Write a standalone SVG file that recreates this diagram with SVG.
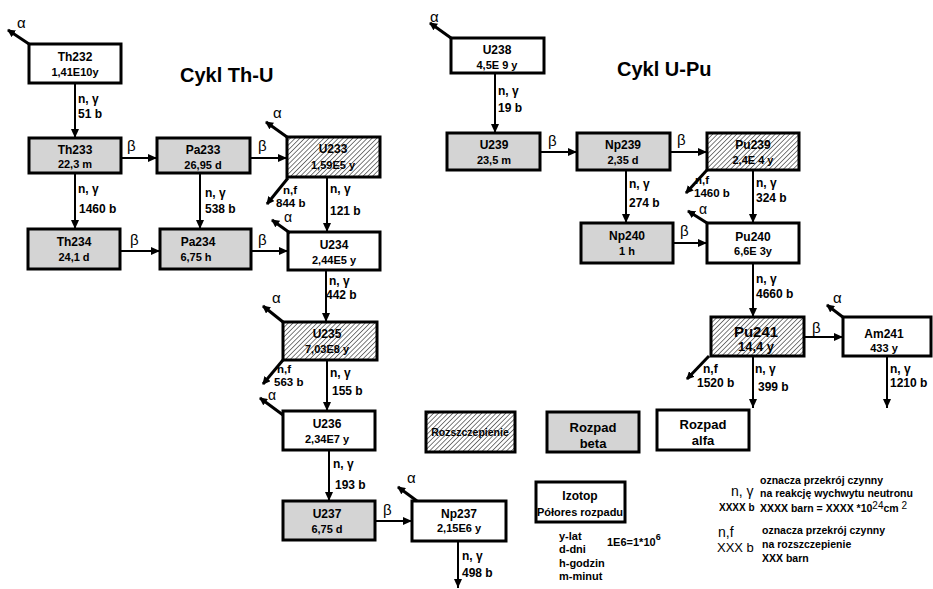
<svg xmlns="http://www.w3.org/2000/svg" width="933" height="589" viewBox="0 0 933 589">
<defs>
<pattern id="hatch" patternUnits="userSpaceOnUse" width="3.4" height="3.4" patternTransform="rotate(45)">
<rect width="3.4" height="3.4" fill="#fff"/>
<line x1="0" y1="0" x2="0" y2="3.4" stroke="#444" stroke-width="1.4"/>
</pattern>
<marker id="ah" markerUnits="userSpaceOnUse" markerWidth="9" markerHeight="8" refX="9" refY="4" orient="auto">
<path d="M0,0 L9,4 L0,8 z" fill="#000"/>
</marker>
<marker id="ah2" markerUnits="userSpaceOnUse" markerWidth="8" markerHeight="8" refX="7" refY="4" orient="auto">
<path d="M0,0 L8,4 L0,8 z" fill="#000"/>
</marker>
</defs>
<style>
.box{stroke:#000;stroke-width:3}
.w{fill:#fff}.g{fill:#d4d4d4}.h{fill:url(#hatch)}
text{font-family:"Liberation Sans",Arial,sans-serif;fill:#000}
.n1{font-size:12px;font-weight:bold;text-anchor:middle}
.n2{font-size:11px;font-weight:bold;text-anchor:middle}
.lb{font-size:12px;font-weight:bold}
.nf{font-size:11.5px;font-weight:bold}
.gr{font-size:15px}
.ti{font-size:20px;font-weight:bold}
.lg{font-size:10.5px;font-weight:bold}
.lc{font-size:13px;font-weight:bold;text-anchor:middle}
.conn line{stroke:#000;stroke-width:2;marker-end:url(#ah)}
.conn line.d{stroke-width:3;marker-end:url(#ah2)}
</style>
<rect width="933" height="589" fill="#fff"/>

<text class="ti" x="180" y="82">Cykl Th-U</text>
<text class="ti" x="617" y="76">Cykl U-Pu</text>

<g id="Th232"><rect class="box w" x="29" y="44" width="92" height="39"/><text class="n1" x="75" y="61">Th232</text><text class="n2" x="75" y="76">1,41E10y</text></g>
<g id="Th233"><rect class="box g" x="29" y="138" width="92" height="35"/><text class="n1" x="75" y="154">Th233</text><text class="n2" x="75" y="168">22,3 m</text></g>
<g id="Pa233"><rect class="box g" x="157" y="138" width="93" height="35"/><text class="n1" x="203" y="154">Pa233</text><text class="n2" x="203" y="169">26,95 d</text></g>
<g id="U233"><rect class="box h" x="287" y="137" width="93" height="40"/><text class="n1" x="333" y="153">U233</text><text class="n2" x="333" y="169">1,59E5 y</text></g>
<g id="Th234"><rect class="box g" x="28" y="229" width="92" height="40"/><text class="n1" x="74" y="246">Th234</text><text class="n2" x="74" y="261">24,1 d</text></g>
<g id="Pa234"><rect class="box g" x="160" y="229" width="91" height="40"/><text class="n1" x="198" y="246">Pa234</text><text class="n2" x="196" y="261">6,75 h</text></g>
<g id="U234"><rect class="box w" x="288" y="232" width="92" height="38"/><text class="n1" x="334" y="249">U234</text><text class="n2" x="334" y="264">2,44E5 y</text></g>
<g id="U235"><rect class="box h" x="283" y="322" width="94" height="38"/><text class="n1" x="327" y="338">U235</text><text class="n2" x="327" y="353">7,03E8 y</text></g>
<g id="U236"><rect class="box w" x="283" y="411" width="92" height="39"/><text class="n1" x="327" y="428">U236</text><text class="n2" x="327" y="443">2,34E7 y</text></g>
<g id="U237"><rect class="box g" x="283" y="501" width="92" height="39"/><text class="n1" x="327" y="518">U237</text><text class="n2" x="327" y="533">6,75 d</text></g>
<g id="Np237"><rect class="box w" x="412" y="501" width="94" height="40"/><text class="n1" x="459" y="518">Np237</text><text class="n2" x="459" y="532">2,15E6 y</text></g>

<g id="U238"><rect class="box w" x="451" y="38" width="93" height="35"/><text class="n1" x="497" y="54">U238</text><text class="n2" x="497" y="69">4,5E 9 y</text></g>
<g id="U239"><rect class="box g" x="447" y="133" width="93" height="37"/><text class="n1" x="494" y="149">U239</text><text class="n2" x="494" y="164">23,5 m</text></g>
<g id="Np239"><rect class="box g" x="577" y="133" width="93" height="37"/><text class="n1" x="623" y="149">Np239</text><text class="n2" x="623" y="164">2,35 d</text></g>
<g id="Pu239"><rect class="box h" x="707" y="133" width="92" height="37"/><text class="n1" x="753" y="149">Pu239</text><text class="n2" x="753" y="164">2,4E 4 y</text></g>
<g id="Np240"><rect class="box g" x="581" y="223" width="92" height="40"/><text class="n1" x="627" y="240">Np240</text><text class="n2" x="627" y="255">1 h</text></g>
<g id="Pu240"><rect class="box w" x="707" y="223" width="92" height="40"/><text class="n1" x="753" y="241">Pu240</text><text class="n2" x="753" y="255">6,6E 3y</text></g>
<g id="Pu241"><rect class="box h" x="711" y="317" width="93" height="39"/><text class="n1" x="756" y="337" style="font-size:15px">Pu241</text><text class="n1" x="756" y="351" style="font-size:13px">14,4 y</text></g>
<g id="Am241"><rect class="box w" x="843" y="317" width="88" height="39"/><text class="n1" x="884" y="338">Am241</text><text class="n2" x="884" y="352">433 y</text></g>

<g id="legend-fission"><rect class="box h" x="426" y="412" width="89" height="40"/><text class="n2" x="470" y="436" style="font-size:10.5px">Rozszczepienie</text></g>
<g id="legend-beta"><rect class="box g" x="547" y="412" width="92" height="40"/><text class="lc" x="593" y="432">Rozpad</text><text class="lc" x="593" y="448">beta</text></g>
<g id="legend-alfa"><rect class="box w" x="657" y="410" width="92" height="40"/><text class="lc" x="703" y="429">Rozpad</text><text class="lc" x="703" y="445">alfa</text></g>
<g id="legend-isotope"><rect class="box w" x="536" y="482" width="89" height="40"/><text class="n1" x="580" y="500">Izotop</text><text class="n1" x="580" y="516" style="font-size:11px">Półores rozpadu</text></g>

<g id="legend-text">
<text class="lb" x="559" y="540" style="font-size:11px">y-lat</text>
<text class="lb" x="559" y="553" style="font-size:11px">d-dni</text>
<text class="lb" x="559" y="567" style="font-size:11px">h-godzin</text>
<text class="lb" x="559" y="580" style="font-size:11px">m-minut</text>
<text class="lb" x="607" y="546" style="font-size:11px">1E6=1*10<tspan dy="-6" style="font-size:9px">6</tspan></text>
<text x="731" y="496" style="font-size:14px">n, γ</text>
<text class="lb" x="719" y="511" style="font-size:10px">XXXX b</text>
<text class="lg" x="760" y="484">oznacza przekrój czynny</text>
<text class="lg" x="760" y="497">na reakcję wychwytu neutronu</text>
<text class="lg" x="760" y="512">XXXX barn = XXXX *10<tspan dy="-3" style="font-size:10px;font-weight:normal">24</tspan><tspan dy="3">cm </tspan><tspan dy="-3" style="font-size:10px;font-weight:normal">2</tspan></text>
<text x="718" y="537" style="font-size:14px">n,f</text>
<text x="717" y="552" style="font-size:13px">XXX b</text>
<text class="lg" x="762" y="534">oznacza przekrój czynny</text>
<text class="lg" x="762" y="548">na rozszczepienie</text>
<text class="lg" x="762" y="562">XXX barn</text>
</g>

<g class="conn">
<line x1="75" y1="83" x2="75" y2="138"/>
<line x1="75" y1="173" x2="75" y2="229"/>
<line x1="200" y1="173" x2="200" y2="229"/>
<line x1="327" y1="177" x2="327" y2="232"/>
<line x1="326" y1="270" x2="326" y2="322"/>
<line x1="327" y1="360" x2="327" y2="411"/>
<line x1="329" y1="450" x2="329" y2="501"/>
<line x1="458" y1="541" x2="458" y2="588"/>
<line x1="495" y1="73" x2="495" y2="133"/>
<line x1="626" y1="170" x2="626" y2="223"/>
<line x1="753" y1="170" x2="753" y2="223"/>
<line x1="753" y1="263" x2="753" y2="317"/>
<line x1="753" y1="356" x2="753" y2="408"/>
<line x1="887" y1="356" x2="887" y2="408"/>
<line x1="121" y1="158" x2="157" y2="158"/>
<line x1="250" y1="158" x2="287" y2="158"/>
<line x1="120" y1="251" x2="160" y2="251"/>
<line x1="251" y1="251" x2="288" y2="251"/>
<line x1="375" y1="521" x2="412" y2="521"/>
<line x1="540" y1="152" x2="577" y2="152"/>
<line x1="670" y1="152" x2="707" y2="152"/>
<line x1="673" y1="243" x2="707" y2="243"/>
<line x1="804" y1="337" x2="843" y2="337"/>
<line class="d" x1="29" y1="44" x2="8" y2="30"/>
<line class="d" x1="287" y1="137" x2="266" y2="122"/>
<line class="d" x1="290" y1="233" x2="272" y2="220"/>
<line class="d" x1="283" y1="322" x2="263" y2="306"/>
<line class="d" x1="283" y1="415" x2="260" y2="398"/>
<line class="d" x1="417" y1="501" x2="398" y2="487"/>
<line class="d" x1="451" y1="38" x2="430" y2="23"/>
<line class="d" x1="707" y1="223" x2="688" y2="211"/>
<line class="d" x1="844" y1="318" x2="827" y2="305"/>
<line class="d" x1="288" y1="178" x2="267" y2="204"/>
<line class="d" x1="283" y1="360" x2="263" y2="384"/>
<line class="d" x1="707" y1="170" x2="686" y2="193"/>
<line class="d" x1="709" y1="356" x2="687" y2="379"/>
</g>

<g id="connector-labels">
<text class="lb" x="78" y="103">n, γ</text><text class="lb" x="78" y="118">51 b</text>
<text class="lb" x="78" y="193">n, γ</text><text class="lb" x="79" y="213">1460 b</text>
<text class="lb" x="205" y="197">n, γ</text><text class="lb" x="205" y="213">538 b</text>
<text class="nf" x="283" y="194">n,f</text><text class="nf" x="276" y="207">844 b</text>
<text class="lb" x="330" y="193">n, γ</text><text class="lb" x="330" y="215">121 b</text>
<text class="lb" x="329" y="285">n, γ</text><text class="lb" x="326" y="299">442 b</text>
<text class="nf" x="277" y="373">n,f</text><text class="nf" x="274" y="386">563 b</text>
<text class="lb" x="330" y="377">n, γ</text><text class="lb" x="332" y="395">155 b</text>
<text class="lb" x="333" y="468">n, γ</text><text class="lb" x="335" y="489">193 b</text>
<text class="lb" x="462" y="560">n, γ</text><text class="lb" x="462" y="577">498 b</text>
<text class="lb" x="498" y="95">n, γ</text><text class="lb" x="498" y="112">19 b</text>
<text class="lb" x="629" y="188">n, γ</text><text class="lb" x="629" y="207">274 b</text>
<text class="nf" x="695" y="184">n,f</text><text class="nf" x="694" y="197">1460 b</text>
<text class="lb" x="756" y="187">n, γ</text><text class="lb" x="756" y="202">324 b</text>
<text class="lb" x="756" y="283">n, γ</text><text class="lb" x="756" y="298">4660 b</text>
<text class="lb" x="703" y="373">n,f</text><text class="lb" x="697" y="387">1520 b</text>
<text class="lb" x="755" y="373">n, γ</text><text class="lb" x="758" y="391">399 b</text>
<text class="lb" x="890" y="373">n, γ</text><text class="lb" x="890" y="387">1210 b</text>
<text class="gr" x="127" y="151">β</text>
<text class="gr" x="258" y="151">β</text>
<text class="gr" x="130" y="245">β</text>
<text class="gr" x="258" y="245">β</text>
<text class="gr" x="383" y="515">β</text>
<text class="gr" x="548" y="146">β</text>
<text class="gr" x="677" y="145">β</text>
<text class="gr" x="680" y="236">β</text>
<text class="gr" x="812" y="333">β</text>
<text class="gr" x="17" y="28">α</text>
<text class="gr" x="273" y="118">α</text>
<text class="gr" x="284" y="222" style="font-size:14px">α</text>
<text class="gr" x="272" y="303">α</text>
<text class="gr" x="268" y="400" style="font-size:14px">α</text>
<text class="gr" x="407" y="483">α</text>
<text class="gr" x="430" y="22">α</text>
<text class="gr" x="699" y="214" style="font-size:14px">α</text>
<text class="gr" x="833" y="303">α</text>
</g>
</svg>
